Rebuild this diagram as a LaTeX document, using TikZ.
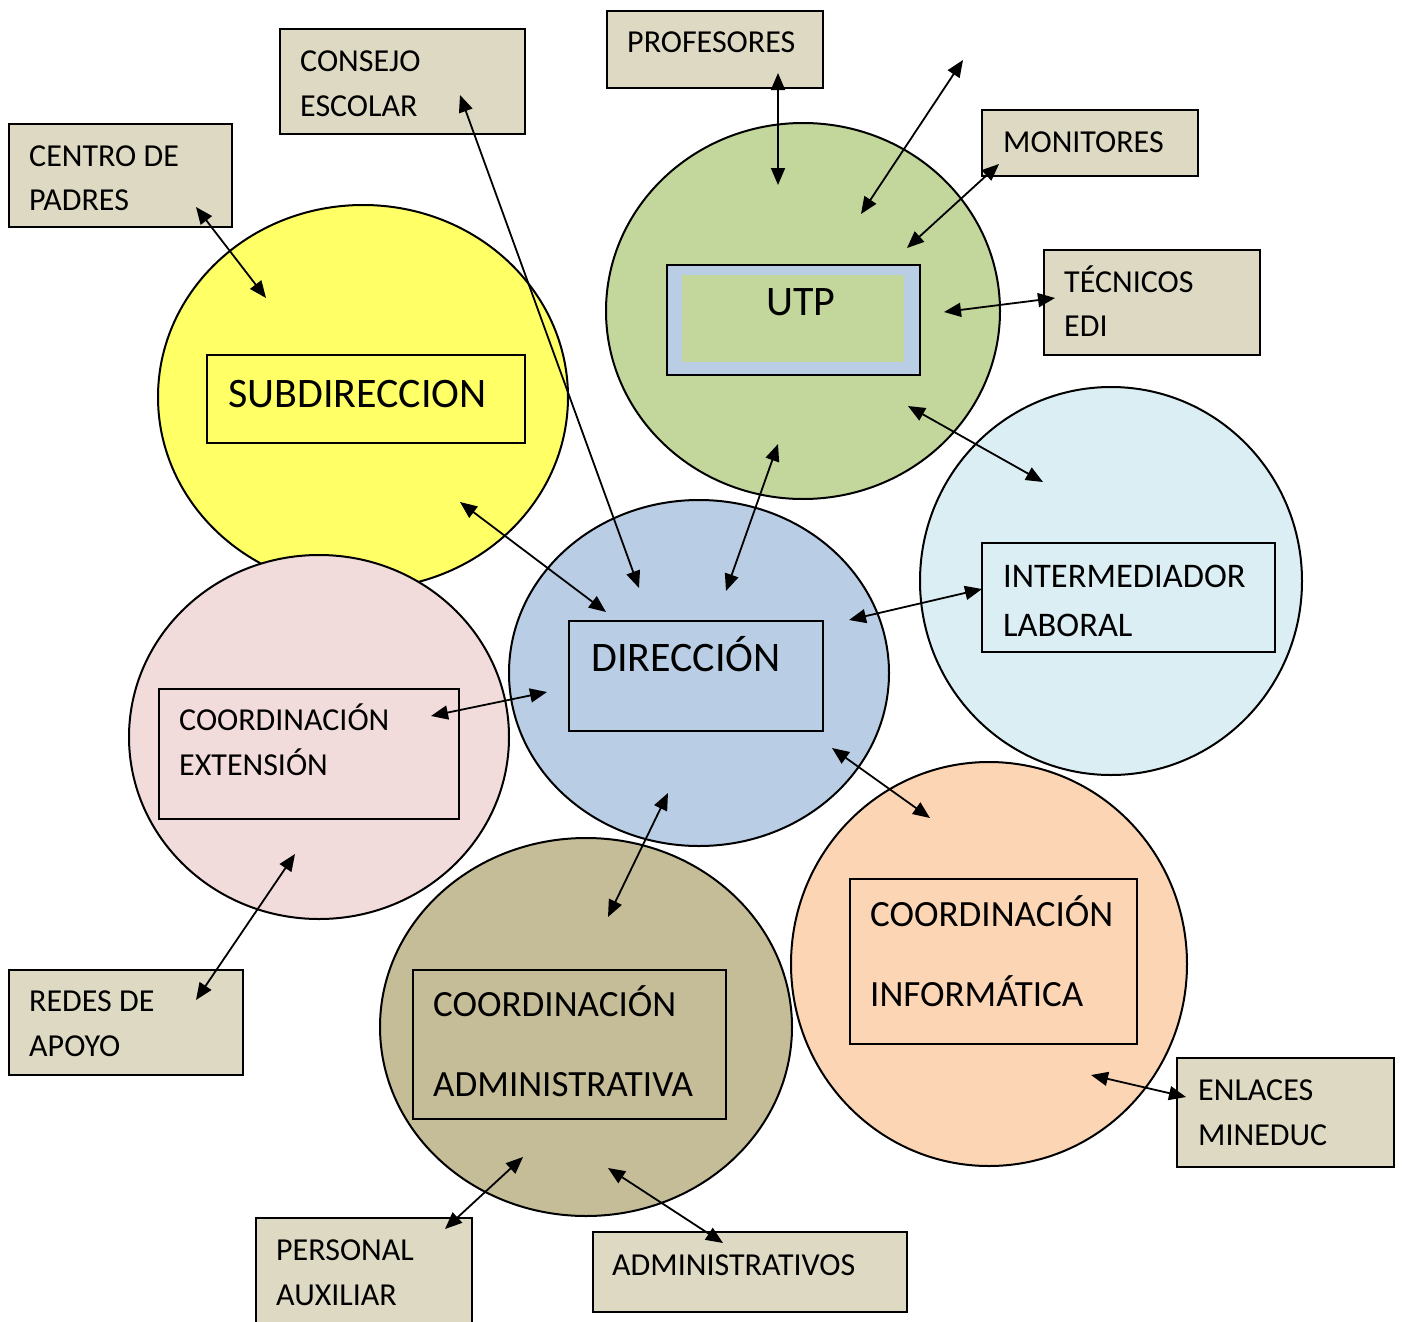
\documentclass[tikz,border=0pt]{standalone}
\usepackage{fontspec}
\setmainfont{Carlito}
\usetikzlibrary{shapes.geometric,arrows.meta}
\definecolor{cyel}{HTML}{FFFF66}
\definecolor{cgreen}{HTML}{C3D69B}
\definecolor{caqua}{HTML}{DBEEF4}
\definecolor{cblue}{HTML}{B9CDE5}
\definecolor{cpink}{HTML}{F2DCDB}
\definecolor{ckhaki}{HTML}{C4BD97}
\definecolor{corange}{HTML}{FCD5B5}
\definecolor{ctan}{HTML}{DDD9C3}
\begin{document}
\begin{tikzpicture}[x=1pt,y=-1pt,
  circ/.style={ellipse,draw=black,line width=2pt,inner sep=0pt},
  tanbox/.style={rectangle,draw=black,line width=2.2pt,fill=ctan,anchor=north west,inner sep=0pt},
  inbox/.style={rectangle,draw=black,line width=2.2pt,anchor=north west,inner sep=0pt},
  sm/.style={anchor=base west,inner sep=0pt,font=\fontsize{32}{38}\selectfont},
  im/.style={anchor=base west,inner sep=0pt,font=\fontsize{34.5}{40}\selectfont},
  md/.style={anchor=base west,inner sep=0pt,font=\fontsize{37}{42}\selectfont},
  lg/.style={anchor=base west,inner sep=0pt,font=\fontsize{42}{48}\selectfont},
  link/.style={{Triangle[length=17pt,width=14pt]}-{Triangle[length=17pt,width=14pt]},line width=1.8pt}
]
\useasboundingbox (0,0) rectangle (1403,1322);
\fill[white] (0,0) rectangle (1403,1322);

% circles
\node[circ,fill=cyel,minimum width=410pt,minimum height=384pt] (subc) at (363,397) {};
\node[circ,fill=cgreen,minimum width=394pt,minimum height=376pt] (utpc) at (803,311) {};
\node[circ,fill=corange,minimum width=396pt,minimum height=404pt] (infc) at (989,964) {};
\node[circ,fill=caqua,minimum width=382pt,minimum height=388pt] (intc) at (1111,581) {};
\node[circ,fill=ckhaki,minimum width=412pt,minimum height=378pt] (admc) at (586,1027) {};
\node[circ,fill=cblue,minimum width=380pt,minimum height=346pt] (dirc) at (699,673) {};
\node[circ,fill=cpink,minimum width=380pt,minimum height=364pt] (extc) at (319,737) {};

% inner boxes
\node[inbox,minimum width=318pt,minimum height=88pt] (subb) at (206,354) {};
\node[inbox,fill=cblue,minimum width=253pt,minimum height=110pt] (utpb) at (666,264) {};
\node[rectangle,fill=cgreen,anchor=north west,inner sep=0pt,minimum width=222pt,minimum height=87pt] (utpi) at (682,275) {};
\node[inbox,minimum width=254pt,minimum height=110pt] (dirb) at (568,620) {};
\node[inbox,minimum width=300pt,minimum height=130pt] (extb) at (158,688) {};
\node[inbox,minimum width=293pt,minimum height=109pt] (intb) at (981,542) {};
\node[inbox,minimum width=287pt,minimum height=165pt] (infb) at (849,878) {};
\node[inbox,minimum width=313pt,minimum height=149pt] (admb) at (412,969) {};

% outer tan boxes
\node[tanbox,minimum width=223pt,minimum height=103pt] (padb) at (8,123) {};
\node[tanbox,minimum width=245pt,minimum height=105pt] (conb) at (279,28) {};
\node[tanbox,minimum width=216pt,minimum height=77pt] (profb) at (606,10) {};
\node[tanbox,minimum width=216pt,minimum height=66pt] (monb) at (981,109) {};
\node[tanbox,minimum width=216pt,minimum height=105pt] (tecb) at (1043,249) {};
\node[tanbox,minimum width=217pt,minimum height=109pt] (enlb) at (1176,1057) {};
\node[tanbox,minimum width=314pt,minimum height=80pt] (admsb) at (592,1231) {};
\node[tanbox,minimum width=216pt,minimum height=115pt] (perb) at (255,1217) {};
\node[tanbox,minimum width=234pt,minimum height=105pt] (redb) at (8,969) {};

% texts
\node[sm] (t1) at (29,166) {CENTRO DE};
\node[sm] (t2) at (29,210) {PADRES};
\node[sm] (t3) at (300,72) {CONSEJO};
\node[sm] (t4) at (300,116) {ESCOLAR};
\node[sm] (t5) at (627,53) {PROFESORES};
\node[sm] (t6) at (1003,152) {MONITORES};
\node[sm] (t7) at (1064,292) {TÉCNICOS};
\node[sm] (t8) at (1064,336) {EDI};
\node[im] (t9) at (1003,587) {INTERMEDIADOR};
\node[im] (t10) at (1003,636) {LABORAL};
\node[sm] (t11) at (1198,1100) {ENLACES};
\node[sm] (t12) at (1198,1145) {MINEDUC};
\node[sm] (t13) at (612,1275) {ADMINISTRATIVOS};
\node[sm] (t14) at (276,1260) {PERSONAL};
\node[sm] (t15) at (276,1305) {AUXILIAR};
\node[sm] (t16) at (29,1011) {REDES DE};
\node[sm] (t17) at (29,1056) {APOYO};
\node[lg] (t18) at (228,407) {SUBDIRECCION};
\node[lg] (t19) at (766,315) {UTP};
\node[lg] (t20) at (591,671) {DIRECCIÓN};
\node[sm] (t21) at (179,730) {COORDINACIÓN};
\node[sm] (t22) at (179,775) {EXTENSIÓN};
\node[md] (t23) at (870,926) {COORDINACIÓN};
\node[md] (t24) at (870,1006) {INFORMÁTICA};
\node[md] (t25) at (433,1016) {COORDINACIÓN};
\node[md] (t26) at (433,1096) {ADMINISTRATIVA};

% connector end points
\coordinate (a1) at (196,207);  \coordinate (b1) at (266,298);
\coordinate (a2) at (460,95);   \coordinate (b2) at (639,588);
\coordinate (a3) at (778,73);   \coordinate (b3) at (778,185);
\coordinate (a4) at (963,60);   \coordinate (b4) at (861,214);
\coordinate (a5) at (999,164);  \coordinate (b5) at (907,248);
\coordinate (a6) at (1055,298); \coordinate (b6) at (944,312);
\coordinate (a7) at (908,406);  \coordinate (b7) at (1043,482);
\coordinate (a8) at (778,444);  \coordinate (b8) at (726,591);
\coordinate (a9) at (460,502);  \coordinate (b9) at (606,612);
\coordinate (a10) at (849,620); \coordinate (b10) at (982,589);
\coordinate (a11) at (431,716); \coordinate (b11) at (547,692);
\coordinate (a12) at (832,748); \coordinate (b12) at (930,818);
\coordinate (a13) at (668,793); \coordinate (b13) at (608,917);
\coordinate (a14) at (196,1000);\coordinate (b14) at (295,854);
\coordinate (a15) at (445,1229);\coordinate (b15) at (523,1157);
\coordinate (a16) at (608,1168);\coordinate (b16) at (723,1243);
\coordinate (a17) at (1091,1075);\coordinate (b17) at (1186,1097);

\foreach \i in {1,...,17} {\draw[link] (a\i) -- (b\i);}
\end{tikzpicture}
\end{document}
